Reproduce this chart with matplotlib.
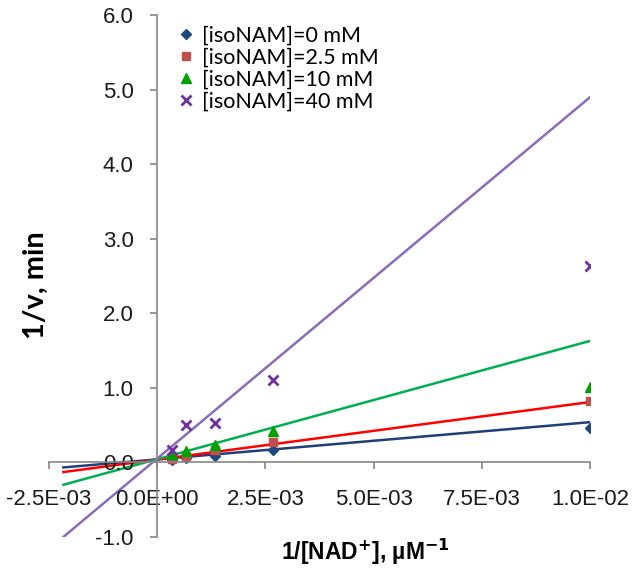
import matplotlib
matplotlib.use("Agg")
import matplotlib.pyplot as plt
import numpy as np
from matplotlib.ticker import FuncFormatter

# Data
x_vals = [0.01, 1/375, 1/750, 1/1500, 1/3000]
y_0mM = [0.46, 0.16, 0.09, 0.06, 0.03]
y_2p5mM = [0.82, 0.27, 0.16, 0.08, 0.05]
y_10mM = [1.01, 0.42, 0.24, 0.15, 0.11]
y_40mM = [2.63, 1.11, 0.53, 0.50, 0.17]
labels = ["[isoNAM]=0 mM", "[isoNAM]=2.5 mM", "[isoNAM]=10 mM", "[isoNAM]=40 mM"]
# Trendline parameters (slope, intercept) as drawn
slopes = [49.9, 77.2, 158.6, 484.8]
intercepts = [0.041, 0.038, 0.044, 0.052]
line_x_range = [1/3000 - 0.0025, 0.01]
x_ticks = [-0.0025, 0.0, 0.0025, 0.005, 0.0075, 0.01]
y_ticks = [-1.0, 0.0, 1.0, 2.0, 3.0, 4.0, 5.0, 6.0]

series = [y_0mM, y_2p5mM, y_10mM, y_40mM]
markers = ["D", "s", "^", "x"]
msizes = [5, 6, 7, 7]
mcolors = ["#1F497D", "#C0504D", "#00A000", "#7030A0"]
lcolors = ["#1F3F78", "#FF0000", "#00B050", "#8C6BB8"]

fig = plt.figure(figsize=(6.36, 5.87), dpi=100)
ax = fig.add_axes([0.077, 0.0852, 0.851, 0.8892])

for ys, m, ms, mc, lab in zip(series, markers, msizes, mcolors, labels):
    kw = dict(marker=m, linestyle="none", markersize=ms, color=mc, label=lab)
    if m == "x":
        kw["markeredgewidth"] = 2
    ax.plot(x_vals, ys, **kw)

lx = np.array(line_x_range)
for s, b, lc in zip(slopes, intercepts, lcolors):
    ax.plot(lx, s * lx + b, color=lc, linewidth=1.8, zorder=1)

ax.set_xlim(-0.0025, 0.01)
ax.set_ylim(-1.0, 6.0)
ax.set_xticks(x_ticks)
ax.set_yticks(y_ticks)
ax.xaxis.set_major_formatter(FuncFormatter(lambda v, p: "{:.1E}".format(v)))
ax.yaxis.set_major_formatter(FuncFormatter(lambda v, p: "{:.1f}".format(v)))

ax.spines["left"].set_position(("data", 0))
ax.spines["bottom"].set_position(("data", 0))
ax.spines["top"].set_visible(False)
ax.spines["right"].set_visible(False)
for sp in ("left", "bottom"):
    ax.spines[sp].set_color("#868686")
    ax.spines[sp].set_linewidth(1.2)
ax.tick_params(axis="both", colors="#868686", length=5, width=1.2, direction="out")
ax.tick_params(axis="x", pad=14, labelcolor="#1a1a1a", labelsize=16)
ax.tick_params(axis="y", pad=12, labelcolor="#1a1a1a", labelsize=16)
for lbl in ax.get_xticklabels() + ax.get_yticklabels():
    lbl.set_fontfamily("Liberation Sans")

fig.text(0.057, 0.515, "1/v, min", rotation=90, fontsize=21, fontweight="bold",
         family="Lato", ha="center", va="center")
fig.text(0.574, 0.06, "1/[NAD$^{\\mathbf{+}}$], \u00b5M$^{\\mathbf{-1}}$", fontsize=16.5,
         fontweight="bold", family="Liberation Sans", ha="center", va="center")

leg = ax.legend(loc="upper left", bbox_to_anchor=(0.21, 1.005), frameon=False,
                prop={"family": "Lato", "size": 15.5}, handletextpad=0.25,
                labelspacing=0.1, borderaxespad=0.2, handlelength=1.0)

fig.savefig("out.png", dpi=100)
